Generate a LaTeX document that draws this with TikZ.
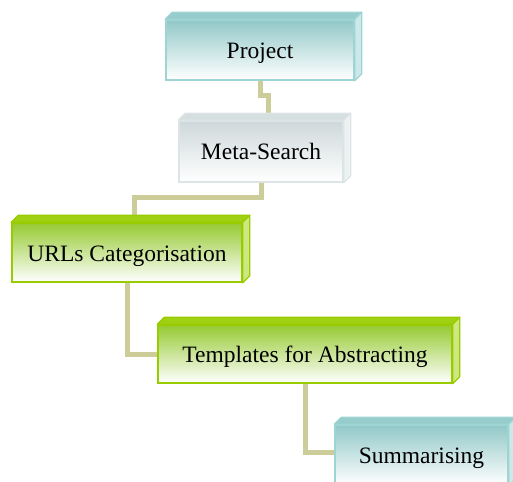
\documentclass[tikz,border=0pt]{standalone}
\usepackage{fontspec}
\setmainfont{Liberation Serif}
\usetikzlibrary{calc,backgrounds}
\definecolor{tealF}{RGB}{146,200,200}
\definecolor{tealB}{RGB}{158,212,212}
\definecolor{tealT}{RGB}{150,204,204}
\definecolor{tealS}{RGB}{205,232,232}
\definecolor{greenF}{RGB}{150,202,50}
\definecolor{greenB}{RGB}{153,204,0}
\definecolor{greenT}{RGB}{160,208,20}
\definecolor{greenS}{RGB}{205,232,130}
\definecolor{grayF}{RGB}{206,216,218}
\definecolor{grayB}{RGB}{220,228,229}
\definecolor{grayT}{RGB}{214,223,224}
\definecolor{grayS}{RGB}{236,241,241}
\definecolor{conn}{RGB}{205,205,153}
\tikzset{
  boxbase/.style={inner sep=0pt, line width=1.5bp, font=\fontsize{23.5bp}{28bp}\selectfont, text=black, text height=20bp, text depth=3bp},
  tealbox/.style={boxbase, draw=tealB, top color=tealF, middle color=tealF!40!white, bottom color=white},
  greenbox/.style={boxbase, draw=greenB, top color=greenF, middle color=greenF!40!white, bottom color=white},
  graybox/.style={boxbase, draw=grayB, top color=grayF, middle color=grayF!40!white, bottom color=white},
  connector/.style={draw=conn, line width=5bp, line join=miter},
}
% #1 node name, #2 top face colour, #3 side face colour, #4 border colour
\newcommand{\depthfaces}[4]{%
  \draw[line width=1.2bp, draw=#4, fill=#2, line join=round]
    (#1.north west) -- ($(#1.north west)+(7,-7)$) -- ($(#1.north east)+(7,-7)$) -- (#1.north east) -- cycle;
  \draw[line width=1.2bp, draw=#4, fill=#3, line join=round]
    (#1.north east) -- ($(#1.north east)+(7,-7)$) -- ($(#1.south east)+(7,-7)$) -- (#1.south east) -- cycle;
  \coordinate (#1top) at ($(#1.north)+(7,-7)$);
}
\begin{document}
\begin{tikzpicture}[x=1bp,y=-1bp]
\useasboundingbox (0,0) rectangle (513,482);
\clip (0,0) rectangle (513,482);
\node[tealbox, minimum width=188bp, minimum height=60bp] (Project) at (260,50) {Project};
\node[graybox, minimum width=164bp, minimum height=61bp] (Meta) at (261,151.5) {Meta-Search};
\node[greenbox, minimum width=230bp, minimum height=59bp] (URL) at (127,252.5) {URLs Categorisation};
\node[greenbox, minimum width=294bp, minimum height=58bp] (Tmpl) at (305,354) {Templates for Abstracting};
\node[tealbox, minimum width=173bp, minimum height=60bp] (Summ) at (421.5,455) {Summarising};
\depthfaces{Project}{tealT}{tealS}{tealB}
\depthfaces{Meta}{grayT}{grayS}{grayB}
\depthfaces{URL}{greenT}{greenS}{greenB}
\depthfaces{Tmpl}{greenT}{greenS}{greenB}
\depthfaces{Summ}{tealT}{tealS}{tealB}
\begin{scope}[on background layer]
  \draw[connector] (Project.south) -- ++(0,15) -| (Metatop);
  \draw[connector] (Meta.south) -- ++(0,15) -| (URLtop);
  \draw[connector] (URL.south) |- (Tmpl.west);
  \draw[connector] (Tmpl.south) |- ($(Summ.west)+(0,-3)$);
\end{scope}
\end{tikzpicture}
\end{document}
